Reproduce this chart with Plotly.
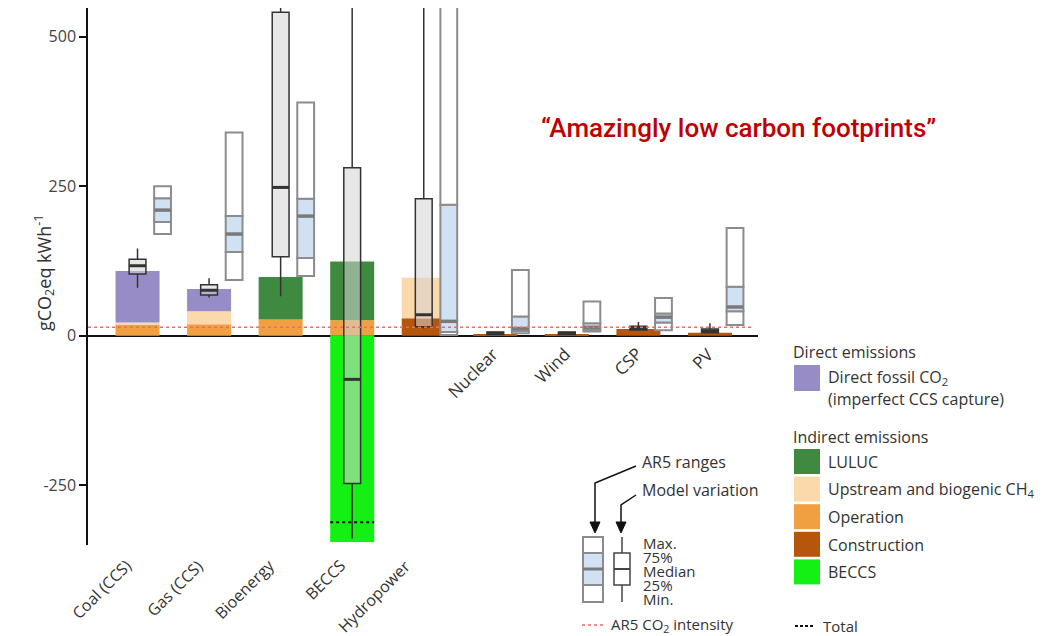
import plotly.graph_objects as go

# ---------------- data ----------------
categories = ["Coal (CCS)", "Gas (CCS)", "Bioenergy", "BECCS", "Hydropower",
              "Nuclear", "Wind", "CSP", "PV"]

construction  = [0, 0, 0, 0, 29, 2, 2, 11, 5]
operation     = [19, 19, 27, 26, 0, 0, 0, 0, 0]
upstream      = [3, 22, 0, 0, 68, 0, 0, 0, 0]
luluc         = [0, 0, 71, 98, 0, 0, 0, 0, 0]
direct_co2    = [86, 37, 0, 0, 0, 0, 0, 0, 0]
beccs_removal = [0, 0, 0, -345, 0, 0, 0, 0, 0]
beccs_total   = [None, None, None, -312, None, None, None, None, None]

model_min = [80, 64, 66, -339, 12, 2, 2, 9, 5]
model_q1  = [103, 68, 132, -247, 15, 2, 2, 9.5, 5]
model_med = [117, 76, 248, -73, 35, 4, 4, 12, 8]
model_q3  = [128, 85, 541, 281, 229, 6, 6, 16, 11]
model_max = [146, 96, 560, 900, 900, 6, 6, 23, 21]

ar5_min = [170, 93, 100, None, 1, 4, 7, 9, 18]
ar5_q1  = [190, 140, 130, None, 6, 8, 10, 22, 41]
ar5_med = [210, 170, 200, None, 24, 12, 14, 31, 48]
ar5_q3  = [230, 200, 229, None, 219, 32, 21, 37, 82]
ar5_max = [250, 340, 390, None, 2200, 110, 57, 63, 180]

ar5_intensity = 14
ytick_vals = [-250, 0, 250, 500]

# ---------------- style ----------------
C_CON = "#b5560c"
C_OP = "#f0a040"
C_UP = "#fcd9aa"
C_LU = "#3f8a40"
C_DIR = "#978cc6"
C_BECCS = "#14f014"
C_AR5_LINE = "#8c8c8c"
C_AR5_FILL = "#cfe1f2"
C_RED = "#c00000"
TXT = "#333333"
FONT = "Open Sans, Noto Sans, sans-serif"

# page body has an 8px margin: figure pixel = screen pixel - 8
OFF = 8
W, H = 1036, 628
ML = 88 - OFF
MT = 8 - OFF
MB = H - (545 - OFF)
MR = W - (758 - OFF)
PW, PH = W - ML - MR, H - MT - MB


def px(xp):
    return (xp - OFF - ML) / PW


def py(yp):
    return (H - MB - (yp - OFF)) / PH


n = len(categories)
idx = list(range(n))
BAR_W = 0.615
BOX_W = 0.235
AR5_OFF = 0.35


def diff(a, b):
    return [None if (x is None or y is None) else y - x for x, y in zip(a, b)]


fig = go.Figure()

# stacked contribution bars
base = [0] * n
for name, vals, col in [("Construction", construction, C_CON),
                        ("Operation", operation, C_OP),
                        ("Upstream and biogenic CH4", upstream, C_UP),
                        ("LULUC", luluc, C_LU),
                        ("Direct fossil CO2", direct_co2, C_DIR)]:
    fig.add_trace(go.Bar(x=idx, y=vals, base=list(base), width=BAR_W,
                         marker=dict(color=col, line=dict(width=0)),
                         name=name, showlegend=False))
    base = [b + v for b, v in zip(base, vals)]

fig.add_trace(go.Bar(x=idx, y=beccs_removal, base=[0] * n, width=BAR_W,
                     marker=dict(color=C_BECCS, line=dict(width=0)),
                     name="BECCS", showlegend=False))

# AR5 range boxes (offset to the right)
for lo, hi, fill in [(ar5_min, ar5_q1, "white"),
                     (ar5_q1, ar5_q3, C_AR5_FILL),
                     (ar5_q3, ar5_max, "white")]:
    fig.add_trace(go.Bar(x=idx, y=diff(lo, hi), base=lo, width=BOX_W,
                         offset=AR5_OFF - BOX_W / 2,
                         marker=dict(color=fill, line=dict(color=C_AR5_LINE, width=2)),
                         showlegend=False, name="AR5"))

# model variation boxes
fig.add_trace(go.Box(x=idx, q1=model_q1, median=model_med, q3=model_q3,
                     lowerfence=model_min, upperfence=model_max,
                     width=BOX_W, whiskerwidth=0,
                     fillcolor="rgba(212,212,212,0.55)",
                     line=dict(color="#333333", width=1.5),
                     boxpoints=False, showlegend=False, name="Model"))

# median lines
ax, ay = [], []
for i, m in enumerate(ar5_med):
    if m is None:
        continue
    ax += [i + AR5_OFF - BOX_W / 2, i + AR5_OFF + BOX_W / 2, None]
    ay += [m, m, None]
fig.add_trace(go.Scatter(x=ax, y=ay, mode="lines",
                         line=dict(color="#7a7a7a", width=3.5), showlegend=False,
                         hoverinfo="skip"))
mx, my = [], []
for i, m in enumerate(model_med):
    mx += [i - BOX_W / 2, i + BOX_W / 2, None]
    my += [m, m, None]
fig.add_trace(go.Scatter(x=mx, y=my, mode="lines",
                         line=dict(color="#333333", width=3), showlegend=False,
                         hoverinfo="skip"))

# total (dashed)
tx, ty = [], []
for i, t in enumerate(beccs_total):
    if t is None:
        continue
    tx += [i - BAR_W / 2, i + BAR_W / 2, None]
    ty += [t, t, None]
fig.add_trace(go.Scatter(x=tx, y=ty, mode="lines",
                         line=dict(color="#111111", width=2, dash="3px,3px"),
                         showlegend=False, hoverinfo="skip"))

shapes = []
# AR5 CO2 intensity line
shapes.append(dict(type="line", xref="paper", yref="y", x0=0, x1=0.99,
                   y0=ar5_intensity, y1=ar5_intensity, layer="above",
                   line=dict(color="#f06a6a", width=1.5, dash="dot")))

annotations = []
# category labels
label_shift = [0.02, 0.02, 0.02, 0.0, -0.08, 0.15, 0.15, 0.15, 0.15]
for i, c in enumerate(categories):
    if i < 5:
        annotations.append(dict(x=i + label_shift[i], xref="x", y=py(552), yref="paper", text=c,
                                textangle=-45, xanchor="right", yanchor="top",
                                showarrow=False, font=dict(size=16, color=TXT, family=FONT)))
    else:
        annotations.append(dict(x=i + label_shift[i], xref="x", y=py(340), yref="paper", text=c,
                                textangle=-45, xanchor="right", yanchor="top",
                                showarrow=False, font=dict(size=17, color=TXT, family=FONT)))

# y-axis title
annotations.append(dict(x=px(28), y=py(273), xref="paper", yref="paper",
                        text="gCO<sub>2</sub>eq kWh<sup>-1</sup>", textangle=-90,
                        showarrow=False, font=dict(size=18, color=TXT, family=FONT)))

# headline
annotations.append(dict(x=px(738), y=py(128), xref="paper", yref="paper",
                        text="\u201cAmazingly low carbon footprints\u201d", showarrow=False,
                        xanchor="center", yanchor="middle",
                        font=dict(size=26, color=C_RED, weight=500,
                                  family="Roboto, Liberation Sans Narrow, sans-serif")))


# legend (right)
def ltext(x, y, t, size=16):
    annotations.append(dict(x=px(x), y=py(y), xref="paper", yref="paper", text=t,
                            xanchor="left", yanchor="middle", showarrow=False,
                            font=dict(size=size, color=TXT, family=FONT)))


def lrect(x0, y0, x1, y1, fill, line=None, lw=0):
    shapes.append(dict(type="rect", xref="paper", yref="paper",
                       x0=px(x0), x1=px(x1), y0=py(y0), y1=py(y1),
                       fillcolor=fill, line=dict(color=line or fill, width=lw), layer="above"))


def lline(x0, y0, x1, y1, color, w, dash=None):
    d = dict(color=color, width=w)
    if dash:
        d["dash"] = dash
    shapes.append(dict(type="line", xref="paper", yref="paper",
                       x0=px(x0), x1=px(x1), y0=py(y0), y1=py(y1), line=d, layer="above"))


ltext(791, 352, "Direct emissions")
lrect(794, 365, 820, 391, C_DIR)
ltext(826, 377, "Direct fossil CO<sub>2</sub>")
ltext(826, 399, "(imperfect CCS capture)")
ltext(791, 437, "Indirect emissions")
for k, (col, lab) in enumerate([(C_LU, "LULUC"),
                                (C_UP, "Upstream and biogenic CH<sub>4</sub>"),
                                (C_OP, "Operation"),
                                (C_CON, "Construction"),
                                (C_BECCS, "BECCS")]):
    y0 = 449 + k * 27.6
    lrect(794, y0, 820, y0 + 25, col)
    ltext(826, y0 + 13, lab)
lline(795, 626, 815, 626, "#111111", 2, "3px,2px")
ltext(821, 626, "Total", 15)

# box legend
ltext(640, 462, "AR5 ranges")
ltext(640, 490, "Model variation")
shapes.append(dict(type="path", xref="paper", yref="paper",
                   path=f"M {px(636)} {py(466)} L {px(595)} {py(483)} L {px(595)} {py(524)}",
                   line=dict(color="#111111", width=1.5), layer="above"))
shapes.append(dict(type="path", xref="paper", yref="paper",
                   path=f"M {px(636)} {py(495)} L {px(621)} {py(505)} L {px(621)} {py(524)}",
                   line=dict(color="#111111", width=1.5), layer="above"))
for xa in (595, 621):
    shapes.append(dict(type="path", xref="paper", yref="paper",
                       path=f"M {px(xa-5)} {py(522)} L {px(xa+5)} {py(522)} L {px(xa)} {py(533)} Z",
                       fillcolor="#111111", line=dict(color="#111111", width=1), layer="above"))
lrect(583, 537, 603, 602, "white", C_AR5_LINE, 2)
lrect(583, 553, 603, 585, C_AR5_FILL, C_AR5_LINE, 2)
lline(583, 569, 603, 569, "#7a7a7a", 3)
lline(622, 537, 622, 602, "#444444", 1.5)
lrect(614, 553, 630, 585, "white", "#444444", 1.5)
lline(614, 569, 630, 569, "#444444", 2)
for t, yy in [("Max.", 543), ("75%", 557), ("Median", 571), ("25%", 585), ("Min.", 599)]:
    ltext(641, yy, t, 15)
lline(582, 625, 603, 625, "#f06a6a", 1.5, "dot")
ltext(609, 625, "AR5 CO<sub>2</sub> intensity", 15)

fig.update_layout(
    width=W, height=H,
    margin=dict(l=ML, r=MR, t=MT, b=MB, pad=0),
    paper_bgcolor="white", plot_bgcolor="white",
    barmode="overlay", boxmode="overlay",
    showlegend=False,
    shapes=shapes, annotations=annotations,
    xaxis=dict(range=[-0.692, 8.671], showgrid=False, zeroline=False,
               showticklabels=False, showline=False, ticks=""),
    yaxis=dict(range=[-350, 548], showgrid=False, zeroline=True,
               zerolinecolor="#111111", zerolinewidth=1.5,
               showline=True, linecolor="#111111", linewidth=1.5,
               ticks="outside", ticklen=7, tickcolor="#111111", tickwidth=1.5,
               tickvals=ytick_vals, ticktext=[str(v) for v in ytick_vals],
               tickfont=dict(size=16, color="#444444", family=FONT)),
)

fig.write_html("out.html")
